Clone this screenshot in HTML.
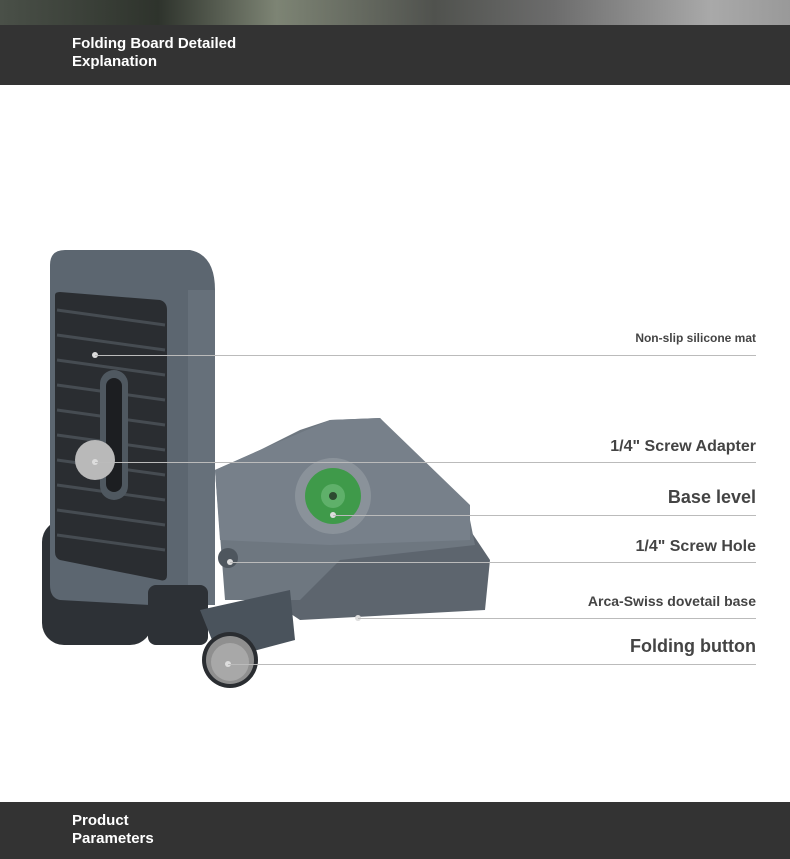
<!DOCTYPE html>
<html><head><style>
body{margin:0;width:790px;height:859px;position:relative;background:#fff;font-family:"Liberation Sans",sans-serif;overflow:hidden}
.top{position:absolute;left:0;top:0;width:790px;height:25px;background:linear-gradient(90deg,#4a5048,#2e332c 20%,#7d8474 35%,#50524e 55%,#6c6c6c 70%,#a9a9a9 90%,#999)}
.bar{position:absolute;left:0;width:790px;background:#333;color:#fff;font-weight:bold;font-size:15px;line-height:18px}
.bar div{position:absolute;left:72px}
.l{position:absolute;right:34px;color:#444;font-weight:bold;white-space:nowrap}
.ln{position:absolute;height:1px;background:#bbb}
</style></head><body>
<div class="top"></div>
<div class="bar" style="top:25px;height:60px"><div style="top:10px">Folding Board Detailed<br>Explanation</div></div>
<div class="bar" style="top:802px;height:57px"><div style="top:10px">Product<br>Parameters</div></div>
<svg style="position:absolute;left:0;top:0" width="790" height="859">
<rect x="42" y="520" width="110" height="125" rx="22" fill="#2d3136"/>
<path d="M340 555 L470 530 L490 560 L485 610 L300 620 L270 600 Z" fill="#5d656e"/>
<path d="M215 470 L260 450 L300 430 L330 420 L380 418 L470 520 L475 545 L340 560 L300 600 L225 600 Z" fill="#6e7780"/>
<path d="M330 420 L380 418 L470 505 L470 540 L330 545 L220 540 L215 470 L260 450 Z" fill="#77808a"/>
<circle cx="333" cy="496" r="38" fill="#8a929a"/>
<circle cx="333" cy="496" r="28" fill="#3f9a4a"/>
<circle cx="333" cy="496" r="12" fill="#5fb06a"/>
<circle cx="333" cy="496" r="4" fill="#2d4a30"/>
<circle cx="228" cy="558" r="10" fill="#4e565e"/>
<path d="M50 265 Q50 250 65 250 L190 250 Q215 255 215 290 L215 600 L150 605 L60 600 Q50 598 50 585 Z" fill="#5c6670"/>
<rect x="188" y="290" width="27" height="315" fill="#66707a"/>
<path d="M55 295 Q55 292 60 292 L160 300 Q167 302 167 310 L167 575 Q167 582 160 580 L60 560 Q55 558 55 552 Z" fill="#2a2d31"/>
<g stroke="#464c52" stroke-width="3">
<line x1="57" y1="310" x2="165" y2="325"/><line x1="57" y1="335" x2="165" y2="350"/><line x1="57" y1="360" x2="165" y2="375"/><line x1="57" y1="385" x2="165" y2="400"/><line x1="57" y1="410" x2="165" y2="425"/><line x1="57" y1="435" x2="165" y2="450"/><line x1="57" y1="460" x2="165" y2="475"/><line x1="57" y1="485" x2="165" y2="500"/><line x1="57" y1="510" x2="165" y2="525"/><line x1="57" y1="535" x2="165" y2="550"/></g>
<rect x="100" y="370" width="28" height="130" rx="14" fill="#4f5860"/>
<rect x="106" y="378" width="16" height="114" rx="8" fill="#1c1e21"/>
<circle cx="95" cy="460" r="20" fill="#b9b9b9"/>
<rect x="148" y="585" width="60" height="60" rx="8" fill="#2d3136"/>
<path d="M200 610 L290 590 L295 640 L220 660 Z" fill="#4a535c"/>
<circle cx="230" cy="660" r="28" fill="#2a2d31"/>
<circle cx="230" cy="660" r="24" fill="#8f8f8f"/>
<circle cx="230" cy="662" r="19" fill="#a8a8a8"/>
<g fill="#ddd"><circle cx="95" cy="355" r="3"/><circle cx="95" cy="462" r="3"/><circle cx="333" cy="515" r="3"/><circle cx="230" cy="562" r="3"/><circle cx="358" cy="618" r="3"/><circle cx="228" cy="664" r="3"/></g>
</svg>
<div class="ln" style="left:95px;top:355px;width:661px"></div>
<div class="ln" style="left:95px;top:462px;width:661px"></div>
<div class="ln" style="left:333px;top:515px;width:423px"></div>
<div class="ln" style="left:230px;top:562px;width:526px"></div>
<div class="ln" style="left:358px;top:618px;width:398px"></div>
<div class="ln" style="left:228px;top:664px;width:528px"></div>
<div class="l" style="top:331px;font-size:12px">Non-slip silicone mat</div>
<div class="l" style="top:438px;font-size:16px">1/4" Screw Adapter</div>
<div class="l" style="top:487px;font-size:18px">Base level</div>
<div class="l" style="top:538px;font-size:16px">1/4" Screw Hole</div>
<div class="l" style="top:593px;font-size:14px">Arca-Swiss dovetail base</div>
<div class="l" style="top:636px;font-size:18px">Folding button</div>
</body></html>
